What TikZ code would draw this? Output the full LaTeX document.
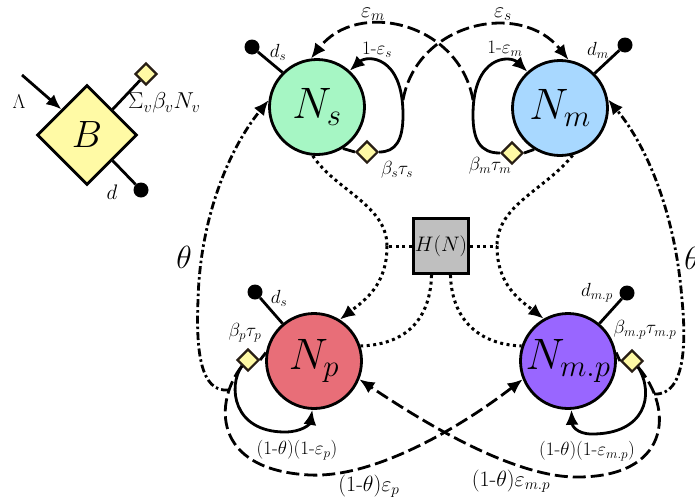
\RequirePackage{fix-cm}
\documentclass[tikz,border=0pt]{standalone}
\usetikzlibrary{arrows.meta,shapes.geometric}
\definecolor{cns}{RGB}{166,246,196}
\definecolor{cnm}{RGB}{168,216,255}
\definecolor{cnp}{RGB}{232,110,120}
\definecolor{cnmp}{RGB}{153,102,255}
\definecolor{cyel}{RGB}{255,250,165}
\definecolor{cgb}{RGB}{40,30,20}
\begin{document}
\begin{tikzpicture}[x=1pt,y=-1pt,
  pop/.style={circle,draw,line width=2.8pt,minimum size=95pt,inner sep=0pt,font=\fontsize{44}{44}\selectfont},
  gate/.style={diamond,draw=cgb,line width=2.2pt,fill=cyel,minimum size=22pt,inner sep=0pt},
  sink/.style={circle,fill=black,minimum size=15pt,inner sep=0pt},
  lab/.style={font=\fontsize{19}{19}\selectfont,inner sep=0pt},
  biglab/.style={font=\fontsize{22}{22}\selectfont,inner sep=0pt},
  conn/.style={line width=2.8pt},
  tip/.style={-{Latex[length=15pt,width=13pt]}},
  dsh/.style={line width=2.8pt,dash pattern=on 13pt off 5pt},
  dtt/.style={line width=3pt,dash pattern=on 3pt off 3.5pt},
  ddot/.style={line width=2.8pt,dash pattern=on 8pt off 3pt on 2.5pt off 3pt},
]
\path[use as bounding box] (0,0) rectangle (695,501);

% birth node
\node[diamond,draw,line width=2.8pt,fill=cyel,minimum size=100pt,inner sep=0pt,font=\fontsize{38}{38}\selectfont] (B) at (87,135) {$B$};
\node[gate] (gB) at (146,74) {};
\node[sink] (kb) at (141,190) {};
\coordinate (lam) at (22,75);
\draw[conn] (B.north east) -- (gB);
\draw[conn] (B.south east) -- (kb);
\draw[conn,tip] (lam) -- (B.north west);
\node[font=\fontsize{20}{20}\selectfont,inner sep=0pt] at (19,102) {$\Lambda$};
\node[font=\fontsize{21}{21}\selectfont,inner sep=0pt] at (112,192) {$d$};
\node[font=\fontsize{23}{23}\selectfont,inner sep=0pt,anchor=west] at (128,103) {$\Sigma_v\beta_vN_v$};

% populations
\node[pop,fill=cns] (Ns) at (317,107) {$N_s$};
\node[pop,fill=cnm] (Nm) at (560,108) {$N_m$};
\node[pop,fill=cnp] (Np) at (314,361) {$N_p$};
\node[pop,fill=cnmp] (Nmp) at (568,361) {$N_{m.p}$};
\node[draw,line width=3.2pt,fill=black!25,minimum size=55pt,inner sep=0pt,font=\fontsize{21}{21}\selectfont] (H) at (441,246) {$H(N)$};

% gates
\node[gate] (Ds) at (367,152) {};
\node[gate] (Dm) at (512,153) {};
\node[gate] (Dp) at (248,360) {};
\node[gate] (Dmp) at (632,361) {};
\draw[conn] (Ns.-58) -- (Ds.west);
\draw[conn] (Nm.-122) -- (Dm.east);
\draw[conn] (Np.170) -- (Dp.east);
\draw[conn] (Nmp.10) -- (Dmp.west);

% sinks
\node[sink] (ks) at (252,47) {};
\node[sink] (km) at (625,45) {};
\node[sink] (kp) at (255,292) {};
\node[sink] (kmp) at (627,293) {};
\draw[conn] (ks) -- (Ns.135);
\draw[conn] (km) -- (Nm.45);
\draw[conn] (kp) -- (Np.130);
\draw[conn] (kmp) -- (Nmp.50);

% self loops
\draw[conn,tip] (Ds.east) .. controls (396,152) and (403,140) .. (403,115) .. controls (403,55) and (367,55) .. (Ns.48);
\draw[conn,tip] (Dm.west) .. controls (480,153) and (473,140) .. (473,115) .. controls (473,55) and (510,55) .. (Nm.132);
\draw[conn,tip] (Dp.south west) .. controls (228,385) and (232,432) .. (285,432) .. controls (302,432) and (310,424) .. (Np.-92);
\draw[conn,tip] (Dmp.south east) .. controls (655,395) and (645,434) .. (592,434) .. controls (576,434) and (572,425) .. (Nmp.-86);

% cross arcs top
\coordinate (es0) at (403,100);
\coordinate (em0) at (473,100);
\draw[dsh,tip] (es0) .. controls (417,22) and (521,0) .. (Nm.80);
\draw[dsh,tip] (em0) .. controls (459,22) and (357,-1) .. (Ns.97);

% cross arcs bottom
\draw[dsh,tip] (Dp.south west) .. controls (215,400) and (210,470) .. (310,475) .. controls (380,478) and (470,420) .. (Nmp.202);
\draw[dsh,tip] (Dmp.south east) .. controls (675,410) and (670,478) .. (575,477) .. controls (510,476) and (420,420) .. (Np.-22);

% theta
\coordinate (jl) at (229,390);
\coordinate (jr) at (654,394);
\draw[ddot,tip] (jl) .. controls (200,393) and (196,350) .. (198,300) .. controls (200,220) and (228,150) .. (Ns.172);
\draw[ddot,tip] (jr) .. controls (686,396) and (686,340) .. (682,300) .. controls (676,220) and (650,150) .. (Nm.10);

% H links
\coordinate (hl) at (387,246);
\coordinate (hr) at (497,246);
\draw[dtt] (H.west) -- (hl);
\draw[dtt] (H.east) -- (hr);
\draw[dtt] (Ns.-95) .. controls (335,190) and (387,205) .. (hl);
\draw[dtt,tip] (hl) .. controls (387,285) and (365,300) .. (Np.58);
\draw[dtt] (Nm.-75) .. controls (545,190) and (497,205) .. (hr);
\draw[dtt,tip] (hr) .. controls (497,285) and (520,300) .. (Nmp.120);
\draw[dtt] (H.252) .. controls (430,325) and (400,345) .. (Np.18);
\draw[dtt] (H.288) .. controls (452,325) and (485,345) .. (Nmp.162);

% labels
\node[lab] at (278,52) {$d_s$};
\node[lab] at (598,50) {$d_m$};
\node[lab] at (279,298) {$d_s$};
\node[lab] at (597,293) {$d_{m.p}$};
\node[lab] at (397,170) {$\beta_s\tau_s$};
\node[lab] at (490,166) {$\beta_m\tau_m$};
\node[lab] at (245,333) {$\beta_p\tau_p$};
\node[lab] at (645,330) {$\beta_{m.p}\tau_{m.p}$};
\node[lab] at (377,50) {1-$\varepsilon_s$};
\node[lab] at (505,49) {1-$\varepsilon_m$};
\node[biglab] at (373,14) {$\varepsilon_m$};
\node[biglab] at (503,14) {$\varepsilon_s$};
\node[lab] at (297,450) {(1-$\theta$)(1-$\varepsilon_p$)};
\node[lab] at (587,451) {(1-$\theta$)(1-$\varepsilon_{m.p}$)};
\node[biglab] at (369,486) {(1-$\theta$)$\varepsilon_p$};
\node[biglab] at (511,481) {(1-$\theta$)$\varepsilon_{m.p}$};
\node[font=\fontsize{32}{32}\selectfont,inner sep=0pt] at (184,257) {$\theta$};
\node[font=\fontsize{32}{32}\selectfont,inner sep=0pt] at (692,258) {$\theta$};
\end{tikzpicture}
\end{document}
